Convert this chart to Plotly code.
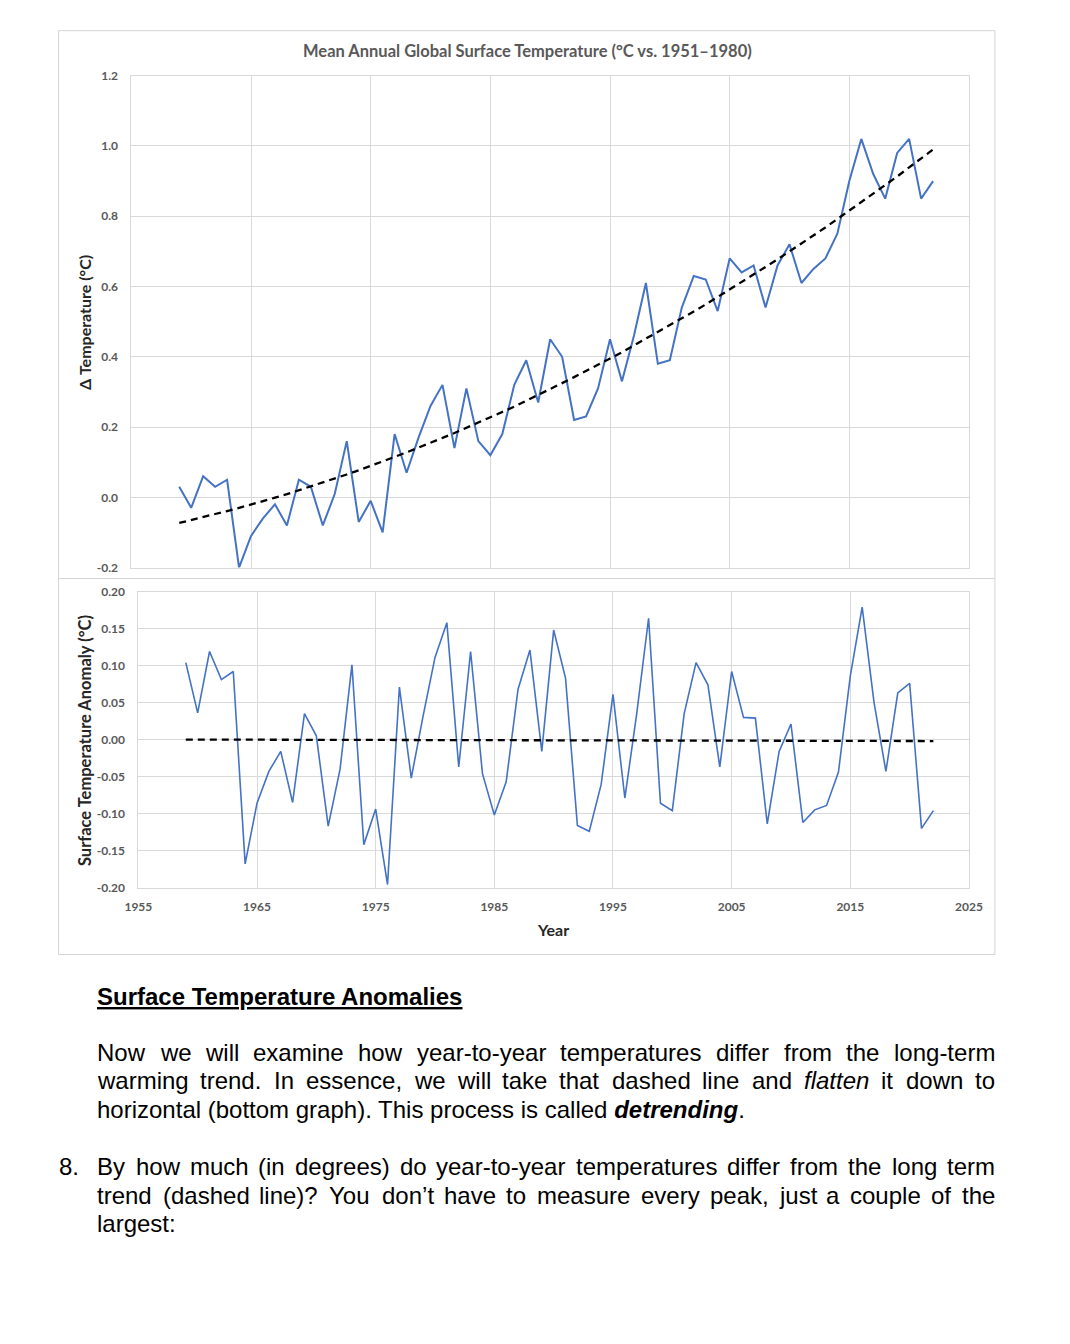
import re
import plotly.graph_objects as go

# ---------------- data ----------------
years = list(range(1959, 2023))
temp_anomaly = [0.03, -0.03, 0.06, 0.03, 0.05, -0.20, -0.11, -0.06, -0.02, -0.08,
                0.05, 0.03, -0.08, 0.01, 0.16, -0.07, -0.01, -0.10, 0.18, 0.07,
                0.17, 0.26, 0.32, 0.14, 0.31, 0.16, 0.12, 0.18, 0.32, 0.39,
                0.27, 0.45, 0.40, 0.22, 0.23, 0.31, 0.45, 0.33, 0.46, 0.61,
                0.38, 0.39, 0.54, 0.63, 0.62, 0.53, 0.68, 0.64, 0.66, 0.54,
                0.66, 0.72, 0.61, 0.65, 0.68, 0.75, 0.90, 1.02, 0.92, 0.85,
                0.98, 1.02, 0.85, 0.90]
trend = [-0.073, -0.065, -0.057, -0.048, -0.039, -0.030, -0.021, -0.011, -0.001, 0.009,
         0.020, 0.030, 0.042, 0.053, 0.065, 0.077, 0.089, 0.102, 0.115, 0.128,
         0.141, 0.155, 0.169, 0.183, 0.198, 0.212, 0.228, 0.243, 0.258, 0.275,
         0.291, 0.308, 0.325, 0.342, 0.359, 0.377, 0.395, 0.413, 0.432, 0.451,
         0.470, 0.489, 0.509, 0.529, 0.549, 0.570, 0.591, 0.612, 0.634, 0.655,
         0.677, 0.700, 0.722, 0.745, 0.768, 0.792, 0.816, 0.839, 0.864, 0.888,
         0.913, 0.939, 0.964, 0.990]
detrended = [0.104, 0.036, 0.119, 0.081, 0.092, -0.168, -0.086, -0.043, -0.016, -0.085,
             0.035, 0.005, -0.117, -0.040, 0.101, -0.142, -0.094, -0.196, 0.071, -0.052,
             0.032, 0.111, 0.158, -0.037, 0.119, -0.046, -0.102, -0.057, 0.068, 0.121,
             -0.016, 0.148, 0.083, -0.116, -0.124, -0.061, 0.061, -0.079, 0.035, 0.164,
             -0.086, -0.096, 0.035, 0.104, 0.074, -0.037, 0.092, 0.030, 0.029, -0.114,
             -0.016, 0.021, -0.112, -0.095, -0.089, -0.044, 0.086, 0.179, 0.050, -0.043,
             0.063, 0.076, -0.120, -0.096]
flat_trend_years = [1959, 2022]
flat_trend = [0.000, -0.002]

x_tick_vals = [1955, 1965, 1975, 1985, 1995, 2005, 2015, 2025]
x_tick_text = ["1955", "1965", "1975", "1985", "1995", "2005", "2015", "2025"]
top_y_vals = [-0.2, 0.0, 0.2, 0.4, 0.6, 0.8, 1.0, 1.2]
top_y_text = ["-0.2", "0.0", "0.2", "0.4", "0.6", "0.8", "1.0", "1.2"]
bot_y_vals = [-0.20, -0.15, -0.10, -0.05, 0.00, 0.05, 0.10, 0.15, 0.20]
bot_y_text = ["-0.20", "-0.15", "-0.10", "-0.05", "0.00", "0.05", "0.10", "0.15", "0.20"]

chart_title = "Mean Annual Global Surface Temperature (°C vs. 1951–1980)"
top_y_title = "Δ Temperature (°C)"
bot_y_title = "Surface Temperature Anomaly (°C)"
x_title = "Year"

heading = "Surface Temperature Anomalies"
para1 = [
    "Now we will examine how year-to-year temperatures differ from the long-term",
    "warming trend. In essence, we will take that dashed line and <i>flatten</i> it down to",
    "horizontal (bottom graph). This process is called <b><i>detrending</i></b>.",
]
q_number = "8."
para2 = [
    "By how much (in degrees) do year-to-year temperatures differ from the long term",
    "trend (dashed line)? You don’t have to measure every peak, just a couple of the",
    "largest:",
]

# ---------------- layout helpers ----------------
W, H = 1070, 1344
# the page is photographed slightly inset; map wanted screen pixels to paper coords
SX, MX = 0.9766, 12.6
SY, MY = 0.989, 7.4


def px(x):
    return (x / SX - MX) / W


def py(y):
    return 1 - (y / SY - MY) / H


ARIAL = {' ': 278, '!': 278, '(': 333, ')': 333, ',': 278, '-': 333, '.': 278, ':': 278,
         '?': 556, '’': 222, "'": 191,
         'A': 667, 'B': 667, 'C': 722, 'D': 722, 'E': 667, 'F': 611, 'G': 778, 'H': 722,
         'I': 278, 'J': 500, 'K': 667, 'L': 556, 'M': 833, 'N': 722, 'O': 778, 'P': 667,
         'Q': 778, 'R': 722, 'S': 667, 'T': 611, 'U': 722, 'V': 667, 'W': 944, 'X': 667,
         'Y': 667, 'Z': 611,
         'a': 556, 'b': 556, 'c': 500, 'd': 556, 'e': 556, 'f': 278, 'g': 556, 'h': 556,
         'i': 222, 'j': 222, 'k': 500, 'l': 222, 'm': 833, 'n': 556, 'o': 556, 'p': 556,
         'q': 556, 'r': 333, 's': 500, 't': 278, 'u': 556, 'v': 500, 'w': 722, 'x': 500,
         'y': 500, 'z': 500}

BODY_FONT = "Liberation Sans"
BODY_SIZE = 24
TEXT_LEFT, TEXT_RIGHT = 96, 996
PAD = 2  # annotation inner padding


def word_width(w, size=BODY_SIZE):
    plain = re.sub(r"<[^>]+>", "", w)
    return sum(ARIAL.get(c, 556) for c in plain) / 1000 * size


annotations = []


def add_text(text, x, y, size=BODY_SIZE, family=BODY_FONT, color="black",
             xanchor="left", angle=0):
    if xanchor == "left":
        x = x - PAD
    annotations.append(dict(text=text, x=px(x), y=py(y), xref="paper", yref="paper",
                            xanchor=xanchor, yanchor="middle", showarrow=False,
                            textangle=angle,
                            font=dict(family=family, size=size, color=color)))


def justified_line(line, y):
    words = line.split(" ")
    widths = [word_width(w) for w in words]
    gap = (TEXT_RIGHT - TEXT_LEFT - sum(widths)) / (len(words) - 1)
    x = TEXT_LEFT
    for w, wd in zip(words, widths):
        add_text(w, x, y)
        x += wd + gap


# ---------------- figure ----------------
fig = go.Figure()
BLUE = "#4472C4"
fig.add_trace(go.Scatter(x=years, y=temp_anomaly, mode="lines", xaxis="x", yaxis="y",
                         line=dict(color=BLUE, width=2), hoverinfo="x+y"))
fig.add_trace(go.Scatter(x=years, y=trend, mode="lines", xaxis="x", yaxis="y",
                         line=dict(color="black", width=2.3, dash="7px,5px"), hoverinfo="x+y"))
fig.add_trace(go.Scatter(x=years, y=detrended, mode="lines", xaxis="x2", yaxis="y2",
                         line=dict(color=BLUE, width=1.6), hoverinfo="x+y"))
fig.add_trace(go.Scatter(x=flat_trend_years, y=flat_trend, mode="lines", xaxis="x2", yaxis="y2",
                         line=dict(color="black", width=2.3, dash="7px,5px"), hoverinfo="x+y"))

GRID = "#d9d9d9"
TICKFONT = dict(family="Lato", size=12, color="#595959", weight="bold")
common = dict(showgrid=True, gridcolor=GRID, gridwidth=1, zeroline=False,
              showline=True, linecolor=GRID, linewidth=1, mirror=True,
              tickcolor="rgba(0,0,0,0)", tickfont=TICKFONT)

fig.update_layout(
    width=W, height=H, margin=dict(l=0, r=0, t=0, b=0, pad=0),
    paper_bgcolor="white", plot_bgcolor="white", showlegend=False,
    xaxis=dict(domain=[px(130), px(970)], range=[1955, 2025], anchor="y",
               tickvals=x_tick_vals, showticklabels=False, ticks="", **common),
    yaxis=dict(domain=[py(567), py(75)], range=[-0.2, 1.2], anchor="x",
               tickvals=top_y_vals, ticktext=top_y_text, ticks="outside", ticklen=10, **common),
    xaxis2=dict(domain=[px(137), px(970)], range=[1955, 2025], anchor="y2",
                tickvals=x_tick_vals, ticktext=x_tick_text, ticks="outside", ticklen=8, **common),
    yaxis2=dict(domain=[py(887), py(591)], range=[-0.2, 0.2], anchor="x2",
                tickvals=bot_y_vals, ticktext=bot_y_text, ticks="outside", ticklen=10, **common),
)

# chart frame
shapes = [
    dict(type="rect", xref="paper", yref="paper", x0=px(57), x1=px(996), y0=py(954), y1=py(30),
         line=dict(color="#d4d4d4", width=1), fillcolor="rgba(0,0,0,0)", layer="below"),
    dict(type="line", xref="paper", yref="paper", x0=px(57), x1=px(996), y0=py(578), y1=py(578),
         line=dict(color="#d4d4d4", width=1), layer="below"),
]
fig.update_layout(shapes=shapes)

# chart texts
add_text("<b>" + chart_title + "</b>", 527, 50, size=16.5, family="Lato", color="#595959",
         xanchor="center")
add_text("<b>" + top_y_title + "</b>", 83, 322, size=16, family="Lato", color="#262626",
         xanchor="center", angle=-90)
add_text("<b>" + bot_y_title + "</b>", 83, 740, size=16.5, family="Lato", color="#262626",
         xanchor="center", angle=-90)
add_text("<b>" + x_title + "</b>", 553, 929, size=16, family="Lato", color="#262626",
         xanchor="center")

# body text
add_text("<b><u>" + heading + "</u></b>", TEXT_LEFT, 996)
justified_line(para1[0], 1052)
justified_line(para1[1], 1080)
add_text(para1[2], TEXT_LEFT, 1109)
add_text(q_number, 57, 1166)
justified_line(para2[0], 1166)
justified_line(para2[1], 1195)
add_text(para2[2], TEXT_LEFT, 1223)

fig.update_layout(annotations=annotations)

fig.write_html("out.html", config={"displayModeBar": False},
               post_script="document.body.style.margin='0';document.body.style.overflow='hidden';")
